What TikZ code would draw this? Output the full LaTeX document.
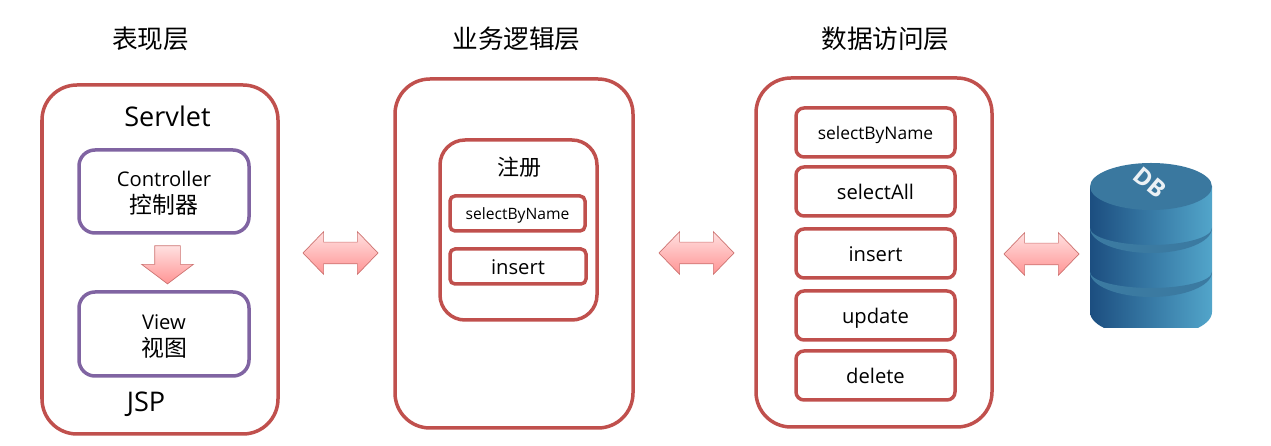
\documentclass[tikz,border=0pt]{standalone}
\usepackage{fontspec}
\setmainfont{Open Sans}
\newfontfamily\cjk{Noto Sans CJK SC}
\usepackage{tikz}
\usetikzlibrary{shapes,arrows}
\definecolor{boxred}{HTML}{C0504D}
\definecolor{boxpurple}{HTML}{8064A2}
\definecolor{dbdark}{HTML}{1C4E80}
\definecolor{dblight}{HTML}{52A5CA}
\definecolor{dbtop}{HTML}{3A789F}

\begin{document}
\begin{tikzpicture}
	\tikzstyle{layer} = [draw=boxred, shape=rectangle, rounded corners=0.7cm, minimum width=4.72cm, minimum height=6.98cm, line width=0.07cm]
	\tikzstyle{part} = [draw=boxpurple, shape=rectangle, rounded corners=0.32cm, minimum width=3.4cm, minimum height=1.66cm, line width=0.07cm, align=center, font=\fontsize{11.5}{15.4}\selectfont, inner sep=0pt, text height=26.4pt]
	\tikzstyle{func} = [draw=boxred, shape=rectangle, rounded corners=0.16cm, minimum width=3.18cm, minimum height=0.98cm, line width=0.07cm, font=\fontsize{11.5}{13}\selectfont, inner sep=0pt, text height=9.2pt, text depth=0pt]
	\tikzstyle{small} = [func, minimum width=2.7cm, minimum height=0.7cm, rounded corners=0.1cm]
	\tikzstyle{title} = [font=\fontsize{14.6}{16}\selectfont\cjk, inner sep=0pt]
	\tikzstyle{swap} = [shape=double arrow, draw=boxred!80, line width=0.4pt, top color=red!12, bottom color=red!42, minimum height=1.5cm, text height=0.42cm, text depth=0pt, double arrow head extend=0.21cm, double arrow tip angle=92, inner sep=0pt]
	\useasboundingbox (0,0) rectangle (25.42,8.92);
	%Creating Layers
	\node at (3.01,8.14) [title] (title1) {表现层};
	\node at (10.33,8.14) [title] (title2) {业务逻辑层};
	\node at (17.71,8.14) [title] (title3) {数据访问层};
	\node at (3.2,3.73) [layer] (view) {};
	\node at (10.28,3.85) [layer, minimum width=4.76cm] (service) {};
	\node at (17.48,3.87) [layer] (dao) {};
	%Presentation Parts
	\node at (3.35,6.6) [font=\fontsize{15.4}{17}\selectfont] (servlet) {Servlet};
	\node at (2.92,0.84) [font=\fontsize{15.4}{17}\selectfont] (jsp) {JSP};
	\node at (3.28,5.09) [part] (controller) {Controller\\{\cjk\fontsize{13}{15.4}\selectfont 控制器}};
	\node at (3.28,2.24) [part, minimum height=1.68cm] (viewbox) {View\\{\cjk\fontsize{13}{15.4}\selectfont 视图}};
	\node at (3.35,3.72) [shape=single arrow, shape border rotate=270, draw=boxred!80, line width=0.4pt, top color=red!12, bottom color=red!42, minimum height=0.76cm, text width=0.5cm, single arrow head extend=0.26cm, single arrow tip angle=106, inner sep=0pt] (down) {};
	%Register Box
	\node at (10.37,4.32) [layer, minimum width=3.14cm, minimum height=3.6cm, rounded corners=0.5cm] (register) {};
	\node at (10.38,5.58) [font=\fontsize{12.5}{14}\selectfont\cjk] (regtitle) {注册};
	\node at (10.35,4.65) [small, font=\fontsize{8.9}{11}\selectfont, text height=6.8pt] (regselect) {selectByName};
	\node at (10.36,3.59) [small, minimum width=2.72cm] (reginsert) {insert};
	%Data Access Methods
	\node at (17.51,6.27) [func, font=\fontsize{9.9}{11}\selectfont, text height=7.5pt] (selname) {selectByName};
	\node at (17.51,5.09) [func] (selall) {selectAll};
	\node at (17.51,3.85) [func] (insert) {insert};
	\node at (17.51,2.61) [func] (update) {update};
	\node at (17.51,1.41) [func] (delete) {delete};
	%Arrows Between Layers
	\node at (6.81,3.86) [swap] (swap1) {};
	\node at (13.93,3.86) [swap] (swap2) {};
	\node at (20.83,3.84) [swap] (swap3) {};
	%Database Cylinder
	\begin{scope}
	\clip (21.7,2.36) rectangle (24.3,5.8);
	\shade[left color=dbdark, right color=dblight] (21.8,5.19) -- (21.8,2.68) arc[start angle=180, end angle=360, x radius=1.22, y radius=0.5] -- (24.24,5.19) -- cycle;
	\end{scope}
	\fill[dbtop!95!dblight] (21.8,4.36) arc[start angle=180, end angle=360, x radius=1.22, y radius=0.5] arc[start angle=360, end angle=180, x radius=1.22, y radius=0.34] -- cycle;
	\fill[dbtop!95!dblight] (21.8,3.48) arc[start angle=180, end angle=360, x radius=1.22, y radius=0.5] arc[start angle=360, end angle=180, x radius=1.22, y radius=0.32] -- cycle;
	\fill[dbtop] (23.02,5.19) ellipse [x radius=1.22, y radius=0.47];
	\node at (23.0,5.27) [rotate=-40, text=white!90!dbtop, font=\fontsize{13.5}{14}\selectfont\bfseries] (db) {DB};
\end{tikzpicture}
\end{document}
